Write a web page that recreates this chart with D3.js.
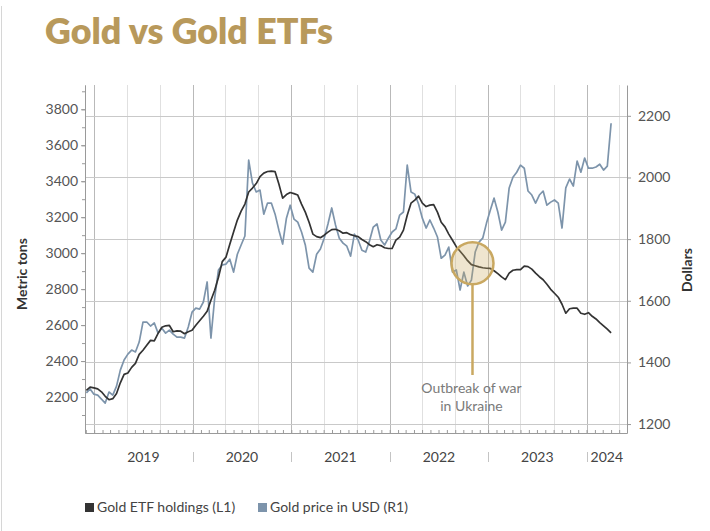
<!DOCTYPE html>
<html>
<head>
<meta charset="utf-8">
<script src="https://cdn.jsdelivr.net/npm/d3@7"></script>
<style>
  html, body { margin: 0; padding: 0; background: #ffffff; }
  svg { display: block; }
  text { font-family: Lato, "Open Sans", sans-serif; }
</style>
</head>
<body>
<svg id="chart" width="710" height="531"></svg>
<script>
// ---------------- DATA ----------------
const title = "Gold vs Gold ETFs";
const seriesStart = "2018-12-03";   // first observation, then every 14 days
const stepDays = 14;

// Gold ETF holdings, metric tons (left axis)
const etfHoldings = [
  2237,2255,2251,2245,2229,2204,2185,2191,2220,2279,
  2326,2334,2365,2387,2437,2460,2488,2515,2512,2554,
  2588,2596,2598,2563,2568,2566,2552,2563,2571,2599,
  2624,2649,2677,2738,2794,2866,2953,2978,3050,3117,
  3184,3234,3273,3340,3362,3387,3426,3445,3454,3456,
  3453,3384,3306,3326,3337,3331,3323,3273,3228,3172,
  3106,3092,3086,3100,3117,3131,3133,3125,3111,3114,
  3103,3097,3092,3076,3064,3047,3036,3047,3042,3030,
  3026,3026,3072,3089,3128,3211,3278,3295,3317,3278,
  3259,3267,3270,3228,3172,3146,3106,3072,3036,3011,
  2986,2958,2936,2930,2924,2919,2916,2915,2902,2886,
  2868,2853,2889,2905,2908,2908,2928,2925,2911,2889,
  2869,2852,2827,2799,2777,2755,2716,2666,2691,2694,
  2694,2666,2660,2669,2649,2634,2614,2596,2577,2557
];

// Gold price in USD (right axis)
const goldPrice = [
  1301,1314,1297,1294,1281,1268,1304,1294,1323,1375,
  1408,1427,1440,1434,1466,1531,1531,1518,1528,1495,
  1511,1495,1505,1492,1482,1482,1479,1515,1563,1576,
  1573,1596,1661,1479,1609,1700,1716,1719,1735,1693,
  1751,1781,1810,2056,1982,1953,1959,1881,1917,1917,
  1881,1829,1784,1868,1910,1865,1855,1823,1781,1706,
  1693,1751,1768,1803,1849,1901,1846,1803,1787,1777,
  1745,1816,1797,1764,1758,1794,1839,1849,1797,1781,
  1803,1823,1833,1878,1888,2040,1953,1946,1914,1868,
  1836,1862,1836,1807,1738,1748,1774,1693,1700,1635,
  1693,1648,1667,1758,1790,1803,1852,1894,1933,1888,
  1829,1855,1966,2001,2017,2040,2030,1956,1943,1917,
  1943,1956,1910,1920,1927,1917,1836,1966,1995,1972,
  2053,2017,2063,2030,2030,2034,2043,2024,2037,2176
];

const leftTicks  = [2200, 2400, 2600, 2800, 3000, 3200, 3400, 3600, 3800];
const rightTicks = [1200, 1400, 1600, 1800, 2000, 2200];
const yearLabels = ["2019", "2020", "2021", "2022", "2023", "2024"];
const legendLabels = ["Gold ETF holdings (L1)", "Gold price in USD (R1)"];
const annotationLines = ["Outbreak of war", "in Ukraine"];
const annotationDate = "2022-11-04";
const annotationValue = 1722;   // on the right (USD) axis

// ---------------- SETUP ----------------
const svg = d3.select("#chart");
const W = 710, H = 531;
const m = { left: 85, right: 627, top: 85, bottom: 433 };
const parse = d3.timeParse("%Y-%m-%d");

const startDate = parse(seriesStart);
const dates = etfHoldings.map((_, i) => d3.timeDay.offset(startDate, i * stepDays));

const x = d3.scaleTime()
  .domain([new Date(2018, 10, 28), new Date(2024, 4, 30)])
  .range([m.left, m.right]);
const yL = d3.scaleLinear().domain([2000, 3935]).range([m.bottom, m.top]);
const yR = d3.scaleLinear().domain([1171, 2300]).range([m.bottom, m.top]);

const colTitle = "#b8995b";
const colEtf = "#333333";
const colGold = "#7d94ab";
const colGoldAnn = "#c9a861";
const colText = "#555555";

svg.append("rect").attr("width", W).attr("height", H).attr("fill", "#fff");
// card edge
svg.append("line").attr("x1", 1.5).attr("x2", 1.5).attr("y1", 6).attr("y2", H)
  .attr("stroke", "#d6d6d6").attr("stroke-width", 1);

// ---------------- TITLE ----------------
const t = svg.append("text")
  .attr("x", 45).attr("y", 44)
  .attr("fill", colTitle)
  .attr("font-weight", 800)
  .attr("font-size", 31)
  .text(title);
const tw = t.node().getComputedTextLength();
if (tw > 0) t.attr("font-size", Math.max(26, Math.min(36, 31 * 288 / tw)));

// ---------------- GRID ----------------
const grid = svg.append("g");
const gridMonths = d3.timeMonths(new Date(2019, 0, 1), x.domain()[1])
  .filter(d => d.getMonth() % 4 === 0);
grid.selectAll("line.v").data(gridMonths).join("line")
  .attr("x1", d => Math.round(x(d)) + 0.5).attr("x2", d => Math.round(x(d)) + 0.5)
  .attr("y1", m.top).attr("y2", m.bottom)
  .attr("stroke", d => d.getMonth() === 0 ? "#b9b9b9" : "#e0e0e0")
  .attr("stroke-width", 1);
grid.selectAll("line.h").data(rightTicks).join("line")
  .attr("x1", m.left).attr("x2", m.right)
  .attr("y1", d => Math.round(yR(d)) + 0.5).attr("y2", d => Math.round(yR(d)) + 0.5)
  .attr("stroke", "#c9c9c9").attr("stroke-width", 1);

// ---------------- AXES ----------------
function styleAxis(g) {
  g.select(".domain").attr("stroke", "#9a9a9a");
  g.selectAll(".tick line").attr("stroke", "#9a9a9a");
  g.selectAll(".tick text").attr("fill", colText).attr("font-size", 14)
    .attr("font-family", "Lato, 'Open Sans', sans-serif");
}

// left minor ticks
const minorLeft = d3.range(2100, 3901, 100);
svg.append("g").attr("transform", `translate(${m.left},0)`)
  .call(d3.axisLeft(yL).tickValues(minorLeft).tickSize(3).tickFormat("").tickSizeOuter(0))
  .call(styleAxis);
svg.append("g").attr("transform", `translate(${m.left},0)`)
  .call(d3.axisLeft(yL).tickValues(leftTicks).tickSize(4).tickPadding(3).tickSizeOuter(0)
    .tickFormat(d3.format("d")))
  .call(styleAxis);

// right axis
svg.append("g").attr("transform", `translate(${m.right},0)`)
  .call(d3.axisRight(yR).tickValues(rightTicks).tickSize(4).tickPadding(7).tickSizeOuter(0)
    .tickFormat(d3.format("d")))
  .call(styleAxis);

// bottom axis with monthly inner ticks
svg.append("g").attr("transform", `translate(0,${m.bottom})`)
  .call(d3.axisBottom(x).ticks(d3.timeMonth.every(1)).tickSize(-3).tickFormat("").tickSizeOuter(0))
  .call(styleAxis);

// year labels and separators
const yearStarts = yearLabels.map(y => new Date(+y, 0, 1));
svg.selectAll("text.year").data(yearLabels).join("text")
  .attr("class", "year")
  .attr("x", (d, i) => {
    const a = x(yearStarts[i]);
    const b = Math.min(x(new Date(+d + 1, 0, 1)), m.right);
    return (a + b) / 2;
  })
  .attr("y", 462)
  .attr("text-anchor", "middle")
  .attr("fill", "#444")
  .attr("font-size", 14)
  .text(d => d);
svg.selectAll("line.sep").data(yearStarts.slice(1)).join("line")
  .attr("x1", d => Math.round(x(d)) + 0.5).attr("x2", d => Math.round(x(d)) + 0.5)
  .attr("y1", 452).attr("y2", 462)
  .attr("stroke", "#c4c4c4").attr("stroke-width", 1);

// axis titles
svg.append("text")
  .attr("transform", `translate(27,${(m.top + m.bottom) / 2 + 15}) rotate(-90)`)
  .attr("text-anchor", "middle").attr("font-weight", 700).attr("font-size", 14)
  .attr("fill", "#333").text("Metric tons");
svg.append("text")
  .attr("transform", `translate(692,${(m.top + m.bottom) / 2 + 11}) rotate(-90)`)
  .attr("text-anchor", "middle").attr("font-weight", 700).attr("font-size", 14)
  .attr("fill", "#333").text("Dollars");

// ---------------- LINES ----------------
const goldLine = d3.line().x((d, i) => x(dates[i])).y(d => yR(d)).curve(d3.curveLinear);
const etfLine = d3.line().x((d, i) => x(dates[i])).y(d => yL(d)).curve(d3.curveLinear);

svg.append("path").datum(goldPrice)
  .attr("d", goldLine).attr("fill", "none")
  .attr("stroke", colGold).attr("stroke-width", 1.7).attr("stroke-linejoin", "round");
svg.append("path").datum(etfHoldings)
  .attr("d", etfLine).attr("fill", "none")
  .attr("stroke", colEtf).attr("stroke-width", 1.7).attr("stroke-linejoin", "round");

// ---------------- ANNOTATION ----------------
const ax = x(parse(annotationDate));
const ay = yR(annotationValue);
const r = 21;
svg.append("line")
  .attr("x1", ax).attr("x2", ax).attr("y1", ay + r).attr("y2", 375)
  .attr("stroke", colGoldAnn).attr("stroke-width", 2.5);
svg.append("circle")
  .attr("cx", ax).attr("cy", ay).attr("r", r)
  .attr("fill", colGoldAnn).attr("fill-opacity", 0.3)
  .attr("stroke", colGoldAnn).attr("stroke-width", 2.5);
svg.selectAll("text.ann").data(annotationLines).join("text")
  .attr("class", "ann")
  .attr("x", ax - 1).attr("y", (d, i) => 393 + i * 18)
  .attr("text-anchor", "middle")
  .attr("fill", "#7a7a7a").attr("font-size", 14)
  .text(d => d);

// ---------------- LEGEND ----------------
const legendColors = [colEtf, colGold];
const legendX = [85, 258];
const lg = svg.append("g");
legendLabels.forEach((lab, i) => {
  lg.append("rect").attr("x", legendX[i]).attr("y", 503).attr("width", 9).attr("height", 9)
    .attr("fill", legendColors[i]);
  lg.append("text").attr("x", legendX[i] + 12).attr("y", 512)
    .attr("fill", "#444").attr("font-size", 14).text(lab);
});
</script>
</body>
</html>
